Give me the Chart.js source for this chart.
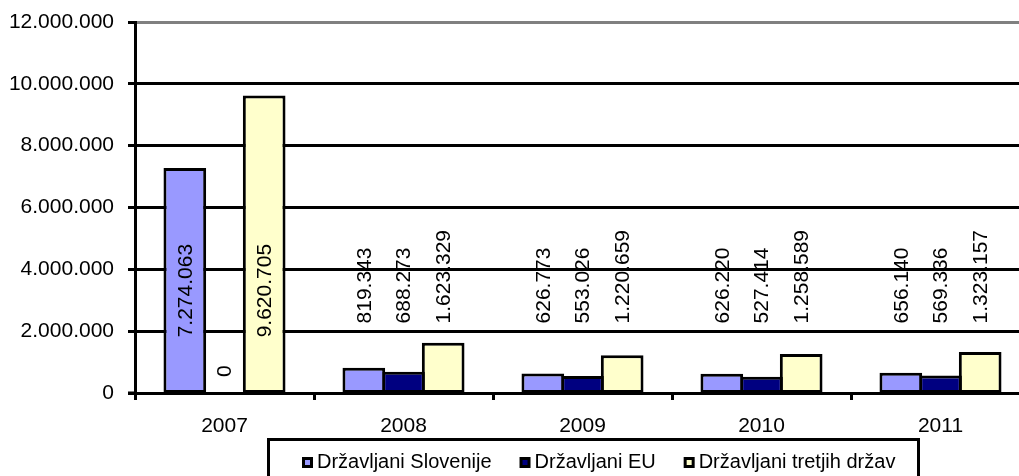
<!DOCTYPE html>
<html>
<head>
<meta charset="utf-8">
<script src="https://cdn.jsdelivr.net/npm/chart.js@4"></script>
<style>
  html, body { margin: 0; padding: 0; background: #fff; overflow: hidden; }
  #wrap { width: 1040px; height: 476px; }
</style>
</head>
<body>
<div id="wrap"><canvas id="c" width="1040" height="476"></canvas></div>
<script>
const categories = ['2007', '2008', '2009', '2010', '2011'];
const seriesNames = ['Državljani Slovenije', 'Državljani EU', 'Državljani tretjih držav'];
const slovenija = [7274063, 819343, 626773, 626220, 656140];
const eu = [0, 688273, 553026, 527414, 569336];
const tretje = [9620705, 1623329, 1220659, 1258589, 1323157];
const yMin = 0, yMax = 12000000, yStep = 2000000;

const FONT = '"Liberation Sans", Arial, sans-serif';

function fmt(v) {
  return String(Math.round(v)).replace(/\B(?=(\d{3})+(?!\d))/g, '.');
}

const valueLabels = {
  id: 'valueLabels',
  afterDatasetsDraw(chart) {
    const ctx = chart.ctx;
    const ys = chart.scales.y;
    ctx.save();
    ctx.font = '21px ' + FONT;
    ctx.fillStyle = '#000';
    ctx.textAlign = 'left';
    ctx.textBaseline = 'middle';
    chart.data.datasets.forEach((ds, i) => {
      const meta = chart.getDatasetMeta(i);
      meta.data.forEach((bar, j) => {
        const v = ds.data[j];
        const anchor = v > 4000000 ? 1800000 : (v === 0 ? 520000 : 2250000);
        ctx.save();
        ctx.translate(bar.x + 1, ys.getPixelForValue(anchor));
        ctx.rotate(-Math.PI / 2);
        ctx.fillText(fmt(v), 0, 0);
        ctx.restore();
      });
    });
    ctx.restore();
  }
};

const zeroTick = {
  id: 'zeroTick',
  afterDraw(chart) {
    const ctx = chart.ctx;
    const ys = chart.scales.y;
    const y0 = Math.round(ys.getPixelForValue(0)) + 0.5;
    ctx.save();
    ctx.strokeStyle = '#000';
    ctx.lineWidth = 3;
    ctx.beginPath();
    ctx.moveTo(chart.chartArea.left - 7, y0);
    ctx.lineTo(chart.chartArea.left, y0);
    ctx.stroke();
    ctx.restore();
  }
};

const boxLegend = {
  id: 'boxLegend',
  afterDraw(chart) {
    const ctx = chart.ctx;
    ctx.save();
    ctx.lineWidth = 3;
    ctx.strokeStyle = '#000';
    ctx.strokeRect(268.5, 439.5, 650, 60);
    ctx.font = '20px ' + FONT;
    ctx.textBaseline = 'middle';
    ctx.textAlign = 'left';
    let x = 302;
    const cy = 462;
    chart.data.datasets.forEach((ds) => {
      ctx.fillStyle = '#000';
      ctx.fillRect(x, cy - 5, 11, 11);
      ctx.fillStyle = ds.backgroundColor;
      ctx.fillRect(x + 3, cy - 2, 5, 5);
      ctx.fillStyle = '#000';
      ctx.fillText(ds.label, x + 15, cy);
      x += 15 + ctx.measureText(ds.label).width + 28;
    });
    ctx.restore();
  }
};

const barCommon = {
  borderColor: '#000',
  borderWidth: 3,
  borderSkipped: false,
  categoryPercentage: 0.665,
  barPercentage: 1.076
};

new Chart(document.getElementById('c'), {
  type: 'bar',
  data: {
    labels: categories,
    datasets: [
      Object.assign({ label: seriesNames[0], data: slovenija, backgroundColor: '#9999FF' }, barCommon),
      Object.assign({ label: seriesNames[1], data: eu, backgroundColor: '#000080' }, barCommon),
      Object.assign({ label: seriesNames[2], data: tretje, backgroundColor: '#FFFFCC' }, barCommon)
    ]
  },
  options: {
    responsive: false,
    devicePixelRatio: 1,
    animation: false,
    layout: { padding: { top: 22, right: 10, bottom: 0, left: 0 } },
    plugins: { legend: { display: false }, tooltip: { enabled: false } },
    scales: {
      x: {
        offset: true,
        grid: {
          offset: true,
          drawOnChartArea: false,
          drawTicks: true,
          tickLength: 7,
          tickColor: '#000',
          tickWidth: 3
        },
        border: { display: true, color: '#000', width: 3 },
        ticks: { color: '#000', font: { family: FONT, size: 21 }, padding: 14, maxRotation: 0 },
        afterFit(scale) { scale.height = 83; }
      },
      y: {
        min: yMin,
        max: yMax,
        grid: {
          color: (c) => (c.tick && c.tick.value === yMax ? '#808080' : '#000'),
          lineWidth: (c) => (c.tick && c.tick.value === 0 ? 0 : 3),
          drawTicks: true,
          tickLength: 7,
          tickColor: '#000',
          tickWidth: 3
        },
        border: { display: true, color: '#000', width: 3 },
        ticks: {
          stepSize: yStep,
          color: '#000',
          font: { family: FONT, size: 21, lineHeight: 1 },
          padding: 14,
          callback: (v) => fmt(v)
        },
        afterFit(scale) {
          scale.width = 135;
          scale.paddingTop = 0;
          scale.paddingBottom = 0;
        }
      }
    }
  },
  plugins: [valueLabels, zeroTick, boxLegend]
});
</script>
</body>
</html>
